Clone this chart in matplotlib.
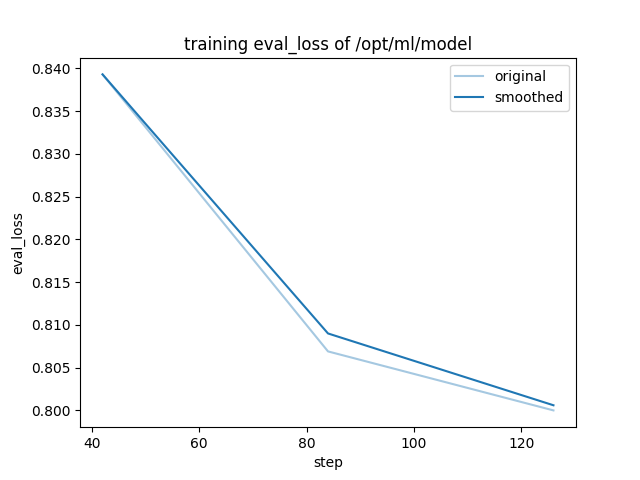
import matplotlib
matplotlib.use("Agg")
from matplotlib import pyplot as plt

steps = [42, 84, 126]
original = [0.8393, 0.8069, 0.8000]
smoothed = [0.8393, 0.8090, 0.8006]

fig, ax = plt.subplots(figsize=(6.4, 4.8), dpi=100)
ax.plot(steps, original, color="tab:blue", alpha=0.4, label="original")
ax.plot(steps, smoothed, color="tab:blue", label="smoothed")
ax.set_title("training eval_loss of /opt/ml/model")
ax.set_xlabel("step")
ax.set_ylabel("eval_loss")
ax.legend()

fig.savefig("out.png")
